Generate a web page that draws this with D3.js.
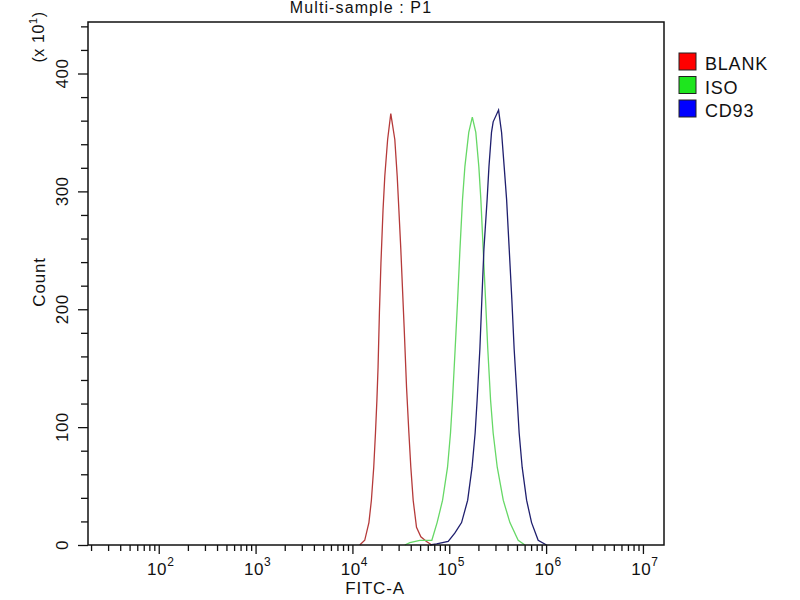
<!DOCTYPE html>
<meta charset="utf-8">
<style>
  body { margin: 0; background: #fff; }
  text { font-family: "Liberation Sans", Arial, sans-serif; fill: #111; }
</style>
<body></body>
<script src="https://d3js.org/d3.v7.min.js"></script>
<script>

// FITC-A value, count (in units of 10^1)
const blankFitc = [1.19e4, 1.34e4, 1.48e4, 1.57e4, 1.66e4, 1.73e4, 1.79e4, 1.84e4, 1.90e4, 1.97e4, 2.07e4, 2.16e4, 2.31e4, 2.49e4,
  2.74e4, 2.90e4, 3.02e4, 3.16e4, 3.42e4, 3.62e4, 3.83e4, 4.01e4, 4.24e4, 4.59e4, 5.09e4, 5.82e4, 6.61e4];
const blankCount = [0, 4, 19, 38, 66, 95, 123, 151, 197, 239, 284, 313, 344, 366,
  344, 313, 284, 251, 185, 134, 95, 66, 38, 15, 7, 3, 0];

const isoFitc = [3.47e4, 3.92e4, 4.97e4, 6.61e4, 7.49e4, 8.53e4, 9.60e4, 1.03e5, 1.08e5, 1.15e5, 1.22e5, 1.29e5, 1.37e5, 1.45e5, 1.59e5, 1.73e5,
  1.88e5, 2.02e5, 2.12e5, 2.24e5, 2.37e5, 2.50e5, 2.67e5, 2.84e5, 3.13e5, 3.61e5, 4.23e5, 5.15e5, 6.04e5];
const isoCount = [0, 2, 4, 4, 19, 38, 66, 95, 123, 166, 208, 251, 293, 321, 350, 363,
  350, 321, 293, 251, 208, 166, 123, 95, 66, 38, 19, 4, 0];

const cd93Fitc = [6.31e4, 7.40e4, 9.75e4, 1.14e5, 1.34e5, 1.55e5, 1.72e5, 1.85e5, 1.94e5, 2.07e5, 2.17e5, 2.28e5, 2.46e5, 2.57e5, 2.73e5, 2.84e5, 3.23e5,
  3.47e5, 3.69e5, 3.91e5, 4.16e5, 4.43e5, 4.68e5, 5.03e5, 5.27e5, 5.66e5, 6.29e5, 7.08e5, 8.28e5, 1.01e6];
const cd93Count = [0, 1, 3, 10, 19, 38, 66, 95, 123, 166, 208, 251, 293, 321, 350, 359, 369,
  350, 321, 293, 251, 208, 166, 123, 95, 66, 38, 19, 4, 0];

const seriesNames = ["BLANK", "ISO", "CD93"];
const lineColors = ["#b53a3a", "#66d866", "#1f1f6e"];
const swatchColors = ["#ff0000", "#1ee61e", "#0000ff"];
const yTicks = [0, 100, 200, 300, 400];
const xDecades = [2, 3, 4, 5, 6, 7];

const series = [
  blankFitc.map((v, i) => [v, blankCount[i]]),
  isoFitc.map((v, i) => [v, isoCount[i]]),
  cd93Fitc.map((v, i) => [v, cd93Count[i]])
];

const width = 800, height = 600;
const margin = {top: 22, right: 136, bottom: 55, left: 88};

const x = d3.scaleLog()
    .domain([18.6, 1.65e7])
    .range([margin.left, width - margin.right]);

const y = d3.scaleLinear()
    .domain([0, 443.7])
    .range([height - margin.bottom, margin.top]);

const svg = d3.select("body")
  .append("svg")
    .attr("width", width)
    .attr("height", height);

// minor + major log ticks
let xTickVals = [];
for (let e = 1; e <= 7; e++) {
  for (let k = 1; k <= 9; k++) {
    const v = k * Math.pow(10, e);
    if (v >= x.domain()[0] && v <= x.domain()[1]) xTickVals.push(v);
  }
}
const isMajor = v => Math.abs(Math.log10(v) - Math.round(Math.log10(v))) < 1e-9;

const xAxis = svg.append("g")
    .attr("transform", `translate(0,${y(0)})`)
    .call(d3.axisBottom(x).tickValues(xTickVals).tickFormat("").tickSizeOuter(0));
xAxis.select(".domain").remove();
xAxis.selectAll(".tick line")
    .attr("stroke", "#111")
    .attr("stroke-width", 1.3)
    .attr("y2", d => isMajor(d) ? 9 : 6);

const xLabels = svg.append("g")
  .selectAll("text")
  .data(xDecades)
  .join("text")
    .attr("x", d => x(Math.pow(10, d)) + 2)
    .attr("y", 575)
    .attr("text-anchor", "middle")
    .attr("font-size", 17)
    .attr("letter-spacing", 0.6);
xLabels.append("tspan").text("10");
xLabels.append("tspan")
    .attr("dy", -9)
    .attr("font-size", 12)
    .text(d => d);

const yAxis = svg.append("g")
    .attr("transform", `translate(${margin.left},0)`)
    .call(d3.axisLeft(y).tickValues(d3.range(0, 441, 20)).tickFormat("").tickSizeOuter(0));
yAxis.select(".domain").remove();
yAxis.selectAll(".tick line")
    .attr("stroke", "#111")
    .attr("stroke-width", 1.3)
    .attr("x2", d => d % 100 === 0 ? -10 : -7);

svg.append("g")
  .selectAll("text")
  .data(yTicks)
  .join("text")
    .attr("transform", d => `translate(68,${y(d)}) rotate(-90)`)
    .attr("text-anchor", "middle")
    .attr("font-size", 17)
    .attr("letter-spacing", 0.5)
    .text(d => d);

// curves
const line = d3.line()
    .x(d => x(d[0]))
    .y(d => y(d[1]));

svg.append("g")
    .attr("fill", "none")
    .attr("stroke-width", 1.3)
  .selectAll("path")
  .data(series)
  .join("path")
    .attr("stroke", (d, i) => lineColors[i])
    .attr("d", line);

// frame
svg.append("rect")
    .attr("x", margin.left)
    .attr("y", margin.top)
    .attr("width", width - margin.left - margin.right)
    .attr("height", height - margin.top - margin.bottom)
    .attr("fill", "none")
    .attr("stroke", "#111")
    .attr("stroke-width", 1.5);

// titles
svg.append("text")
    .attr("x", 361)
    .attr("y", 13)
    .attr("text-anchor", "middle")
    .attr("font-size", 16)
    .attr("letter-spacing", 1.1)
    .text("Multi-sample : P1");

svg.append("text")
    .attr("x", 375)
    .attr("y", 594)
    .attr("text-anchor", "middle")
    .attr("font-size", 17)
    .attr("letter-spacing", 0.8)
    .text("FITC-A");

svg.append("text")
    .attr("transform", "translate(45,282) rotate(-90)")
    .attr("text-anchor", "middle")
    .attr("font-size", 17)
    .attr("letter-spacing", 0.8)
    .text("Count");

const unit = svg.append("text")
    .attr("transform", "translate(44,37) rotate(-90)")
    .attr("text-anchor", "middle")
    .attr("font-size", 16)
    .attr("letter-spacing", 0.6);
unit.append("tspan").text("(x 10");
unit.append("tspan").attr("dy", -7).attr("font-size", 11).text("1");
unit.append("tspan").attr("dy", 7).text(")");

// legend
const legend = svg.append("g")
  .selectAll("g")
  .data(seriesNames)
  .join("g")
    .attr("transform", (d, i) => `translate(679,${53 + i * 23.5})`);

legend.append("rect")
    .attr("width", 17)
    .attr("height", 17)
    .attr("fill", (d, i) => swatchColors[i])
    .attr("stroke", "#222")
    .attr("stroke-width", 1);

legend.append("text")
    .attr("x", 26)
    .attr("y", 17)
    .attr("font-size", 18)
    .attr("letter-spacing", 0.8)
    .text(d => d);

</script>
